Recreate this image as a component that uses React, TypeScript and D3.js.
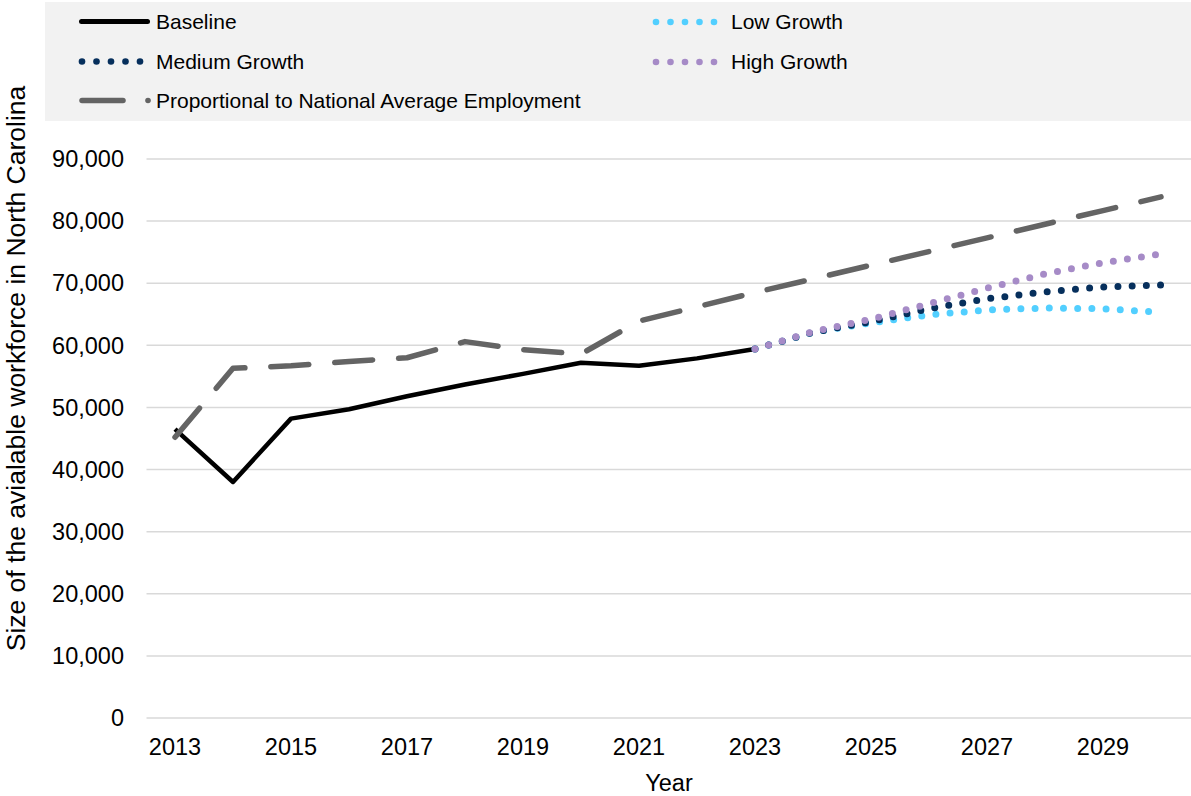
import React from "react";
import * as d3 from "d3";

const years = [2013, 2014, 2015, 2016, 2017, 2018, 2019, 2020, 2021, 2022, 2023, 2024, 2025, 2026, 2027, 2028, 2029, 2030];
const baselineYears = [2013, 2014, 2015, 2016, 2017, 2018, 2019, 2020, 2021, 2022, 2023];
const baseline = [46500, 38000, 48200, 49700, 51800, 53700, 55400, 57200, 56700, 57900, 59400];
const proportional = [45200, 56300, 56700, 57400, 58000, 60600, 59300, 58600, 63900, 66200, 68500, 70700, 72900, 75100, 77300, 79500, 81700, 83900];
const projYears = [2023, 2024, 2025, 2026, 2027, 2028, 2029, 2030];
const lowGrowth = [59400, 62100, 63600, 64900, 65700, 66000, 65900, 65300];
const mediumGrowth = [59400, 62100, 63800, 65900, 67500, 68600, 69400, 69700];
const highGrowth = [59400, 62200, 64200, 66700, 69200, 71500, 73300, 74700];
const yTicks = [0, 10000, 20000, 30000, 40000, 50000, 60000, 70000, 80000, 90000];
const xTickLabels = [2013, 2015, 2017, 2019, 2021, 2023, 2025, 2027, 2029];

const C_BASE = "#000000";
const C_PROP = "#646464";
const C_LOW = "#52CFFF";
const C_MED = "#062F5C";
const C_HIGH = "#A68BC7";
const FONT = "'Liberation Sans', Arial, sans-serif";

export default function App() {
  const W = 1191, H = 796;
  const x = d3.scaleBand<number>().domain(years).range([146, 1190]);
  const xc = (yr: number) => (x(yr) as number) + x.bandwidth() / 2;
  const y = d3.scaleLinear().domain([0, 90000]).range([718, 159]);
  const line = d3.line<[number, number]>().x((d) => xc(d[0])).y((d) => y(d[1]));
  const fmt = d3.format(",");

  const pairs = (xs: number[], vs: number[]) => xs.map((v, i) => [v, vs[i]] as [number, number]);

  const dotted = (vals: number[], color: string) => (
    <path d={line(pairs(projYears, vals)) || ""} fill="none" stroke={color} strokeWidth={7}
      strokeDasharray="0 14.2" strokeLinecap="round" />
  );

  const legendDots = (x0: number, yy: number, color: string) => (
    <g>
      {[0, 1, 2, 3, 4].map((i) => (
        <circle key={i} cx={x0 + i * 14.5} cy={yy} r={3.3} fill={color} />
      ))}
    </g>
  );

  return (
    <svg width={W} height={H} style={{ position: "absolute", left: 0, top: 0, fontFamily: FONT }}>
      <rect x={0} y={0} width={W} height={H} fill="#ffffff" />
      {/* legend */}
      <rect x={45} y={2} width={W - 45} height={119} fill="#f2f2f2" />
      <line x1={81.5} x2={147.5} y1={21.5} y2={21.5} stroke={C_BASE} strokeWidth={5} strokeLinecap="round" />
      <text x={156} y={21.5} dy="0.35em" fontSize={21} fill="#000">Baseline</text>
      {legendDots(82, 61.5, C_MED)}
      <text x={156} y={61.5} dy="0.35em" fontSize={21} fill="#000">Medium Growth</text>
      <line x1={82} x2={123} y1={100.5} y2={100.5} stroke={C_PROP} strokeWidth={5.5} strokeLinecap="round" />
      <circle cx={148} cy={100.5} r={2.8} fill={C_PROP} />
      <text x={156} y={100.5} dy="0.35em" fontSize={21} fill="#000">Proportional to National Average Employment</text>
      {legendDots(656, 22, C_LOW)}
      <text x={731} y={22} dy="0.35em" fontSize={21} fill="#000">Low Growth</text>
      {legendDots(656, 62, C_HIGH)}
      <text x={731} y={62} dy="0.35em" fontSize={21} fill="#000">High Growth</text>

      {/* grid */}
      {yTicks.map((t) => (
        <g key={t}>
          <line x1={146.5} x2={1191} y1={y(t)} y2={y(t)} stroke="#d9d9d9" strokeWidth={1.5} />
          <text x={124} y={y(t)} dy="0.35em" textAnchor="end" fontSize={23.5} fill="#000">{fmt(t)}</text>
        </g>
      ))}
      {xTickLabels.map((t) => (
        <text key={t} x={xc(t)} y={755} textAnchor="middle" fontSize={23.5} fill="#000">{t}</text>
      ))}
      <text x={669} y={791} textAnchor="middle" fontSize={23.5} fill="#000">Year</text>
      <text transform={`translate(24.5,368.5) rotate(-90)`} textAnchor="middle" fontSize={26.5} fill="#000">
        Size of the avialable workforce in North Carolina
      </text>

      {/* series */}
      <path d={line(pairs(baselineYears, baseline)) || ""} fill="none" stroke={C_BASE} strokeWidth={4.5} strokeLinejoin="round" />
      <path d={line(pairs(years, proportional)) || ""} fill="none" stroke={C_PROP} strokeWidth={5.5}
        strokeDasharray="38 26" strokeLinecap="round" strokeLinejoin="round" />
      {dotted(lowGrowth, C_LOW)}
      {dotted(mediumGrowth, C_MED)}
      {dotted(highGrowth, C_HIGH)}
    </svg>
  );
}
